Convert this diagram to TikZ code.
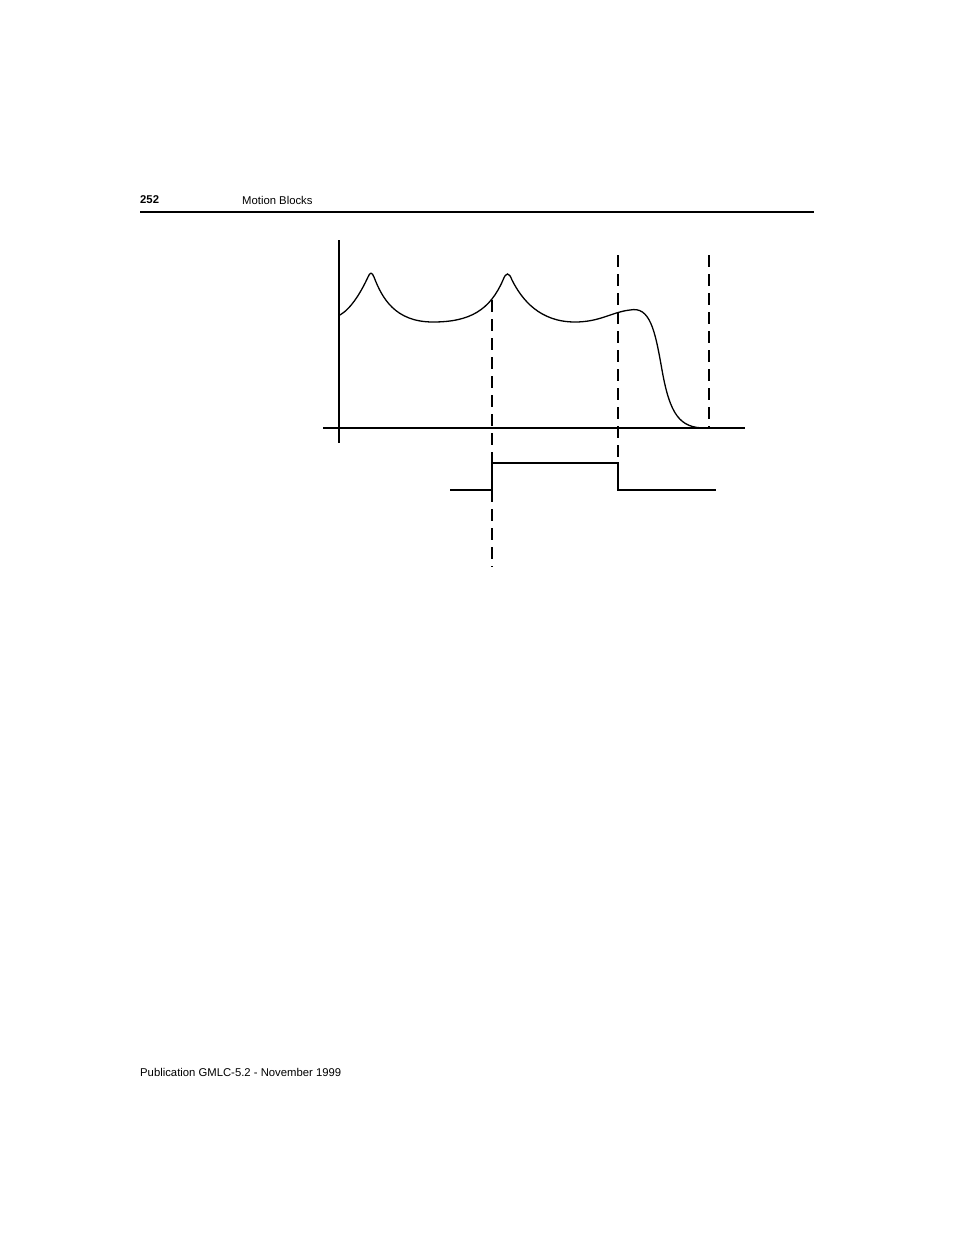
\documentclass[tikz,border=0pt]{standalone}
\usepackage{fontspec}
\setmainfont{Liberation Sans}
\begin{document}
\begin{tikzpicture}[x=1pt,y=-1pt,
  txt/.style={inner sep=0pt,anchor=west,font=\fontsize{11.3}{12}\selectfont},
  axis/.style={line width=2.4pt},
  dsh/.style={line width=1.4pt,dash pattern=on 12pt off 7pt},
  sig/.style={line width=1.3pt}]
\useasboundingbox (0,0) rectangle (954,1235);
\node[txt,font=\fontsize{11.3}{12}\selectfont\bfseries] (pg) at (140,200) {252};
\node[txt] (title) at (242,200) {Motion Blocks};
\draw[line width=1.5pt] (140,212) -- (814,212);
\draw[axis] (339,240) -- (339,443);
\draw[axis] (323,428) -- (745,428);
\draw[sig] (340,315) .. controls (352,308) and (362,290) .. (368,277)
  .. controls (370,272) and (372,272) .. (374,277)
  .. controls (382,298) and (395,322) .. (433,322)
  .. controls (470,322) and (490,310) .. (503,280)
  .. controls (506,272) and (509,272) .. (512,280)
  .. controls (522,300) and (540,322) .. (575,322)
  .. controls (600,322) and (612,312) .. (630,310)
  .. controls (650,306) and (655,330) .. (662,370)
  .. controls (670,415) and (680,428) .. (705,428);
\draw[dsh] (492,300) -- (492,567);
\draw[dsh] (618,255) -- (618,490);
\draw[dsh] (709,255) -- (709,428);
\draw[sig] (450,490) -- (492,490) -- (492,463) -- (618,463) -- (618,490) -- (716,490);
\node[txt] (foot) at (140,1072) {Publication GMLC-5.2 - November 1999};
\end{tikzpicture}
\end{document}
